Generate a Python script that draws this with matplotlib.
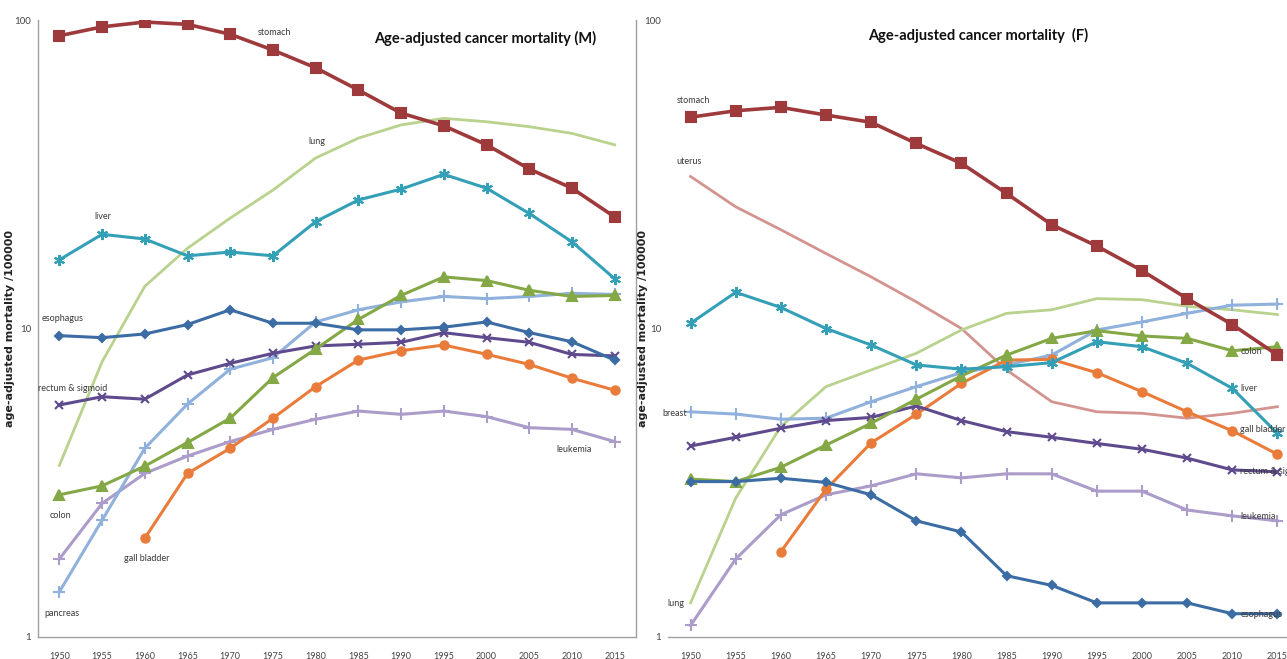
import matplotlib
matplotlib.use("Agg")
import matplotlib.pyplot as plt
from matplotlib.ticker import FixedLocator, NullLocator

years = [1950, 1955, 1960, 1965, 1970, 1975, 1980, 1985, 1990, 1995, 2000, 2005, 2010, 2015]
year_labels = [str(y) for y in years]

# male, deaths per 100000 (age-adjusted)
m_stomach = [88.9, 95.0, 98.5, 96.8, 89.9, 79.9, 70.0, 59.3, 49.9, 45.4, 39.4, 32.9, 28.5, 23.0]
m_lung = [3.6, 7.8, 13.7, 18.2, 22.8, 28.1, 35.7, 41.4, 45.7, 48.0, 46.8, 45.1, 42.9, 39.4]
m_liver = [16.7, 20.2, 19.5, 17.2, 17.7, 17.2, 22.2, 26.1, 28.3, 31.6, 28.5, 23.6, 19.1, 14.5]
m_colon = [2.89, 3.09, 3.58, 4.27, 5.12, 6.93, 8.58, 10.7, 12.8, 14.7, 14.3, 13.3, 12.7, 12.8]
m_esophagus = [9.48, 9.34, 9.6, 10.3, 11.5, 10.4, 10.4, 9.9, 9.9, 10.1, 10.5, 9.7, 9.06, 7.9]
m_rectum = [5.65, 6.01, 5.9, 7.07, 7.71, 8.31, 8.78, 8.89, 9.02, 9.69, 9.34, 9.02, 8.24, 8.15]
m_pancreas = [1.40, 2.39, 4.09, 5.69, 7.38, 8.04, 10.5, 11.5, 12.2, 12.7, 12.5, 12.7, 13.0, 12.9]
m_gallbladder = [None, None, 2.09, 3.39, 4.09, 5.12, 6.48, 7.9, 8.47, 8.84, 8.25, 7.65, 6.9, 6.31]
m_leukemia = [1.79, 2.71, 3.39, 3.86, 4.3, 4.71, 5.08, 5.4, 5.27, 5.4, 5.18, 4.77, 4.71, 4.3]

# female
f_stomach = [48.4, 50.8, 52.1, 49.2, 46.6, 39.8, 34.3, 27.4, 21.7, 18.5, 15.4, 12.5, 10.3, 8.2]
f_uterus = [31.1, 24.8, 20.9, 17.5, 14.7, 12.2, 10.0, 7.34, 5.79, 5.37, 5.31, 5.12, 5.31, 5.58]
f_liver = [10.4, 13.1, 11.7, 10.0, 8.84, 7.62, 7.38, 7.52, 7.75, 9.06, 8.73, 7.71, 6.4, 4.57]
f_lung = [1.29, 2.82, 4.81, 6.48, 7.34, 8.31, 9.89, 11.2, 11.5, 12.5, 12.4, 11.8, 11.5, 11.1]
f_colon = [3.25, 3.19, 3.55, 4.19, 4.93, 5.9, 7.02, 8.2, 9.29, 9.84, 9.46, 9.29, 8.47, 8.73]
f_breast = [5.37, 5.28, 5.08, 5.12, 5.79, 6.48, 7.19, 7.62, 8.2, 9.89, 10.5, 11.2, 11.9, 12.0]
f_rectum = [4.16, 4.44, 4.75, 5.03, 5.15, 5.61, 5.03, 4.63, 4.44, 4.24, 4.06, 3.8, 3.48, 3.43]
f_esophagus = [3.19, 3.19, 3.27, 3.17, 2.89, 2.38, 2.19, 1.58, 1.47, 1.29, 1.29, 1.29, 1.19, 1.19]
f_gallbladder = [None, None, 1.89, 3.01, 4.26, 5.27, 6.64, 7.9, 7.94, 7.19, 6.24, 5.37, 4.66, 3.91]
f_leukemia = [1.09, 1.79, 2.49, 2.89, 3.09, 3.38, 3.28, 3.38, 3.38, 2.97, 2.97, 2.58, 2.47, 2.38]

# series label text and where it sits (category index, value)
m_labels = [("stomach", 4.65, 91), ("lung", 5.84, 40.5), ("liver", 0.81, 23.0),
            ("esophagus", -0.42, 10.8), ("rectum & sigmoid", -0.51, 6.37), ("colon", -0.23, 2.47),
            ("gall bladder", 1.51, 1.79), ("pancreas", -0.35, 1.19), ("leukemia", 11.63, 4.04)]
f_labels = [("stomach", -0.31, 55.0), ("uterus", -0.31, 34.9), ("breast", -0.62, 5.32),
            ("lung", -0.51, 1.28), ("colon", 12.18, 8.45), ("liver", 12.18, 6.37),
            ("gall bladder", 12.18, 4.69), ("rectum & sigmoid", 12.18, 3.43),
            ("leukemia", 12.18, 2.45), ("esophagus", 12.18, 1.18)]

c_stomach = "#9e3a3c"
c_lung = "#b9d28e"
c_liver = "#34a0b7"
c_esoph = "#3b6ca4"
c_colon = "#84a845"
c_rectum = "#5e4a8c"
c_ltblue = "#8fb1dc"
c_gall = "#e97c3a"
c_leuk = "#ab9cca"
c_uterus = "#d39490"

narrow = ["Lato", "DejaVu Sans"]

fig = plt.figure(figsize=(12.87, 6.59), dpi=100)
ax1 = fig.add_axes([38 / 1287, 22 / 659, 598 / 1287, 617 / 659])
ax2 = fig.add_axes([668 / 1287, 22 / 659, 632 / 1287, 617 / 659])

x = list(range(len(years)))


def series(ax, vals, color, marker=None, ms=6, lw=2.2, mew=1.5):
    xs = [i for i, v in zip(x, vals) if v is not None]
    ys = [v for v in vals if v is not None]
    ax.plot(xs, ys, color=color, lw=lw, marker=marker, ms=ms, mew=mew,
            mfc=color, mec=color, solid_joinstyle="round")


# male panel
series(ax1, m_lung, c_lung, lw=2.0)
series(ax1, m_leukemia, c_leuk, "+", ms=8)
series(ax1, m_pancreas, c_ltblue, "+", ms=8)
series(ax1, m_gallbladder, c_gall, "o", ms=6)
series(ax1, m_rectum, c_rectum, "x", ms=6)
series(ax1, m_colon, c_colon, "^", ms=7)
series(ax1, m_esophagus, c_esoph, "D", ms=4)
series(ax1, m_liver, c_liver, (6, 2, 0), ms=8)
series(ax1, m_stomach, c_stomach, "s", ms=7, lw=2.6)

# female panel
series(ax2, f_uterus, c_uterus, lw=2.0)
series(ax2, f_lung, c_lung, lw=2.0)
series(ax2, f_leukemia, c_leuk, "+", ms=8)
series(ax2, f_breast, c_ltblue, "+", ms=8)
series(ax2, f_gallbladder, c_gall, "o", ms=6)
series(ax2, f_rectum, c_rectum, "x", ms=6)
series(ax2, f_colon, c_colon, "^", ms=7)
series(ax2, f_esophagus, c_esoph, "D", ms=4)
series(ax2, f_liver, c_liver, (6, 2, 0), ms=8)
series(ax2, f_stomach, c_stomach, "s", ms=7, lw=2.6)

for ax, labels in ((ax1, m_labels), (ax2, f_labels)):
    ax.set_yscale("log")
    ax.set_ylim(1, 100)
    ax.set_xlim(-0.5, 13.5)
    ax.yaxis.set_major_locator(FixedLocator([1, 10, 100]))
    ax.yaxis.set_minor_locator(NullLocator())
    ax.set_yticklabels(["1", "10", "100"])
    ax.set_xticks(x)
    ax.set_xticklabels(year_labels)
    ax.tick_params(axis="both", length=0, labelsize=7, colors="#444444")
    ax.tick_params(axis="x", pad=11, labelsize=6.5)
    ax.tick_params(axis="y", pad=5)
    for t in ax.get_xticklabels() + ax.get_yticklabels():
        t.set_family(narrow)
    for sp in ax.spines.values():
        sp.set_color("#a0a0a0")
        sp.set_linewidth(1)
    ax.spines["top"].set_visible(False)
    ax.set_ylabel("age-adjusted mortality /100000", fontsize=8, fontweight="bold", color="#222222")
    for txt, lx, ly in labels:
        ax.text(lx, ly, txt, fontsize=6.5, color="#3a3a3a", family=narrow, va="center", ha="left")

ax1.yaxis.set_label_coords(-0.038, 0.5)
ax2.yaxis.set_label_coords(-0.032, 0.5)
ax2.spines["left"].set_visible(False)
ax2.spines["right"].set_visible(False)

ax1.text(0.748, 0.97, "Age-adjusted cancer mortality (M)", transform=ax1.transAxes, ha="center",
         va="center", fontsize=10.5, fontweight="bold", family=narrow, color="#111111")
ax2.text(0.49, 0.975, "Age-adjusted cancer mortality  (F)", transform=ax2.transAxes, ha="center",
         va="center", fontsize=10.5, fontweight="bold", family=narrow, color="#111111")

fig.savefig("out.png", dpi=100)
